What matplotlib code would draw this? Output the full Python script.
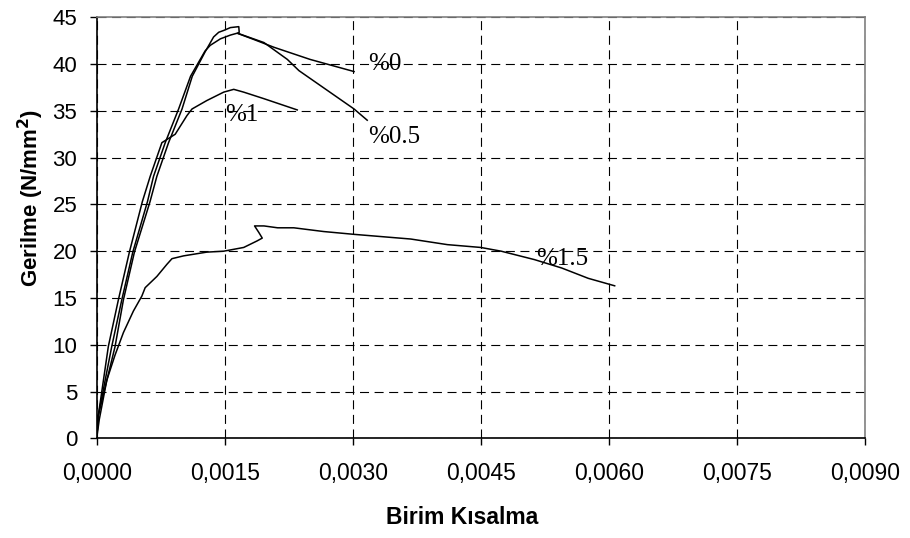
import matplotlib
matplotlib.use("Agg")
import matplotlib.pyplot as plt
from matplotlib.ticker import FuncFormatter, MultipleLocator

# ---- data ----
x_p0 = [0.0, 0.00002, 0.000176, 0.000294, 0.000423, 0.000595, 0.000666, 0.000803,
        0.00096, 0.0011, 0.00127, 0.00133, 0.00145, 0.001567, 0.001646,
        0.00185, 0.002076, 0.0025, 0.003016]
y_p0 = [0.0, 2.5, 9.8, 14.8, 19.9, 25.3, 28.0, 31.6,
        35.2, 38.7, 41.4, 42.0, 42.7, 43.1, 43.3,
        42.6, 41.8, 40.5, 39.2]

x_p05 = [0.0, 0.00002, 0.000215, 0.000313, 0.000442, 0.000625, 0.000705, 0.000842,
         0.001, 0.00112, 0.00127, 0.00137, 0.00143, 0.00149, 0.001567, 0.001665,
         0.00167, 0.00165, 0.00196, 0.002234, 0.00237, 0.003016, 0.00317]
y_p05 = [0.0, 2.5, 9.8, 14.8, 19.9, 25.3, 28.0, 31.6,
         35.2, 38.7, 41.3, 42.9, 43.4, 43.6, 43.9, 44.0,
         43.4, 43.3, 42.3, 40.5, 39.3, 35.2, 34.0]

x_p1 = [0.0, 0.00002, 0.000136, 0.000254, 0.000383, 0.000535, 0.000627, 0.000764,
        0.00092, 0.001058, 0.001117, 0.00129, 0.001488, 0.001606, 0.001723,
        0.00196, 0.00235]
y_p1 = [0.0, 2.5, 9.8, 14.8, 19.9, 25.3, 28.0, 31.6,
        32.5, 34.5, 35.2, 36.1, 37.0, 37.3, 37.0,
        36.3, 35.1]

x_p15 = [0.0, 0.00003, 0.000118, 0.000215, 0.000313, 0.00043, 0.000529, 0.000568,
         0.000705, 0.000823, 0.000882, 0.001018, 0.00129, 0.001488, 0.001723,
         0.00188, 0.00194, 0.0019, 0.00185, 0.00196, 0.00212, 0.00231, 0.00266,
         0.003016, 0.00368, 0.00411, 0.0045, 0.00474, 0.00513, 0.00545, 0.00576,
         0.00607]
y_p15 = [0.0, 2.0, 6.2, 8.9, 11.3, 13.6, 15.2, 16.1,
         17.3, 18.6, 19.2, 19.5, 19.9, 20.0, 20.4,
         21.1, 21.4, 22.0, 22.7, 22.7, 22.5, 22.5, 22.1,
         21.8, 21.3, 20.7, 20.4, 20.0, 19.1, 18.2, 17.1,
         16.3]

series_x = [x_p0, x_p05, x_p1, x_p15]
series_y = [y_p0, y_p05, y_p1, y_p15]
series_labels = ["%0", "%0.5", "%1", "%1.5"]
label_pos = [(0.00318, 40.0), (0.00318, 32.2), (0.00151, 34.6), (0.00515, 19.2)]

x_title = "Birim Kısalma"
y_title = "Gerilme (N/mm$^\\mathbf{2}$)"

# ---- figure ----
plt.rcParams['font.family'] = ['Liberation Sans', 'DejaVu Sans']
plt.rcParams['lines.scale_dashes'] = False

fig = plt.figure(figsize=(9.1, 5.38), dpi=100)
ax = fig.add_axes([96.7 / 910, 1 - 438.3 / 538, (864.7 - 96.7) / 910, (438.3 - 17.3) / 538])

for xs, ys in zip(series_x, series_y):
    ax.plot(xs, ys, color='black', lw=1.1, solid_joinstyle='round')

for lab, (lx, ly) in zip(series_labels, label_pos):
    ax.text(lx, ly, lab, family=['Liberation Serif', 'DejaVu Serif'], fontsize=18,
            ha='left', va='center', color='black')

ax.set_xlim(0, 0.009)
ax.set_ylim(0, 45)
ax.xaxis.set_major_locator(MultipleLocator(0.0015))
ax.yaxis.set_major_locator(MultipleLocator(5))
ax.xaxis.set_major_formatter(FuncFormatter(lambda v, p: f"{v:.4f}".replace('.', ',')))
ax.yaxis.set_major_formatter(FuncFormatter(lambda v, p: f"{v:.0f}"))

ax.grid(True, color='black', lw=0.8, dashes=(6.5, 4))
ax.set_axisbelow(True)

for s in ['left', 'bottom']:
    ax.spines[s].set_color('black')
    ax.spines[s].set_linewidth(1.2)
for s in ['top', 'right']:
    ax.spines[s].set_color('#808080')
    ax.spines[s].set_linewidth(1.2)

ax.tick_params(axis='x', direction='out', length=5, width=1, labelsize=16.5, pad=12, top=False)
ax.tick_params(axis='y', direction='out', length=5, width=1, labelsize=16, pad=9, right=False)

fig.text(462 / 910, 1 - 518 / 538, x_title, ha='center', va='center',
         fontsize=16.5, fontweight='bold')
fig.text(31 / 910, 1 - 198 / 538, y_title, ha='center', va='center',
         rotation=90, fontsize=16, fontweight='bold')

fig.savefig("out.png", dpi=100)
